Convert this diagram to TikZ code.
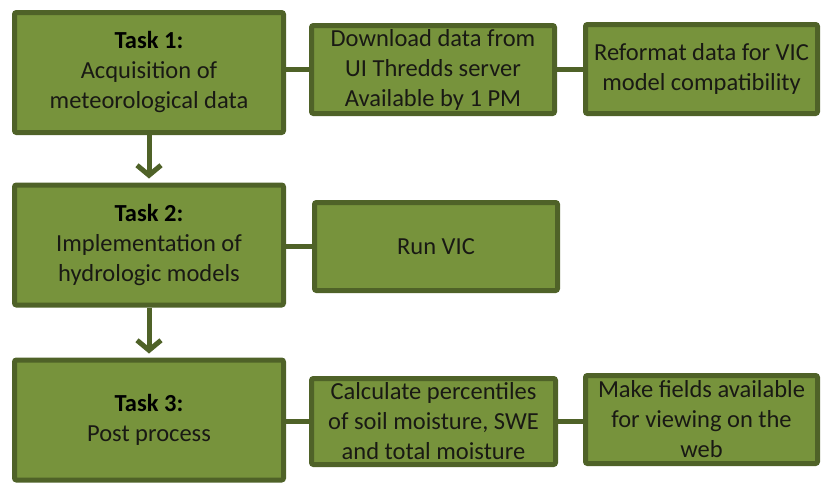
\documentclass[tikz,border=0pt]{standalone}
\usepackage{fontspec}
\setmainfont{Carlito}
\usepackage{tikz}
\usetikzlibrary{arrows.meta}
\definecolor{box_green}{RGB}{119,147,60}
\definecolor{edge_green}{RGB}{79,98,40}
\definecolor{text_dark}{RGB}{25,25,20}

\begin{document}
\begin{tikzpicture}[x=1pt,y=-1pt,line width=5pt,>={Straight Barb[length=10pt,width=24pt,line width=5pt]}]
    \tikzstyle{box}=[draw=edge_green, fill=box_green, rounded corners=2pt, align=center, text=text_dark,
                     font=\fontsize{24.5}{30}\selectfont, inner sep=0pt]
    \tikzstyle{task}=[style=box, minimum width=269pt, minimum height=120pt]
    \tikzstyle{subtask}=[style=box, minimum width=243pt, minimum height=88pt]
    \tikzstyle{link}=[draw=edge_green, line width=5pt]

    \useasboundingbox (0,0) rectangle (822,483);

    \node[task] (T1) at (149,72.5) {\textbf{\color{black}Task 1:}\\Acquisition of\\meteorological data};
    \node[subtask] (D) at (433,69.5) {Download data from\\UI Thredds server\\Available by 1 PM};
    \node[subtask, minimum width=232pt, minimum height=89pt] (R) at (701.5,69) {Reformat data for VIC\\model compatibility};

    \node[task] (T2) at (149,245) {\textbf{\color{black}Task 2:}\\Implementation of\\hydrologic models};
    \node[subtask] (V) at (436,246.5) {Run VIC};

    \node[task] (T3) at (149,420) {\textbf{\color{black}Task 3:}\\Post process};
    \node[subtask, minimum width=244pt, minimum height=86pt] (C) at (433.5,421.5) {Calculate percentiles\\of soil moisture, SWE\\and total moisture};
    \node[subtask, minimum width=232pt] (M) at (701.5,419.5) {Make fields available\\for viewing on the\\web};

    \path[link]
     (D.west -| T1.east) edge (D.west)
     (D.east) edge (D.east -| R.west)
     (V.west -| T2.east) edge (V.west)
     (C.west -| T3.east) edge (C.west)
     (C.east) edge (C.east -| M.west);

    \path[link,->,shorten >=4pt]
     (T1) edge (T2)
     (T2) edge (T3);
\end{tikzpicture}
\end{document}
